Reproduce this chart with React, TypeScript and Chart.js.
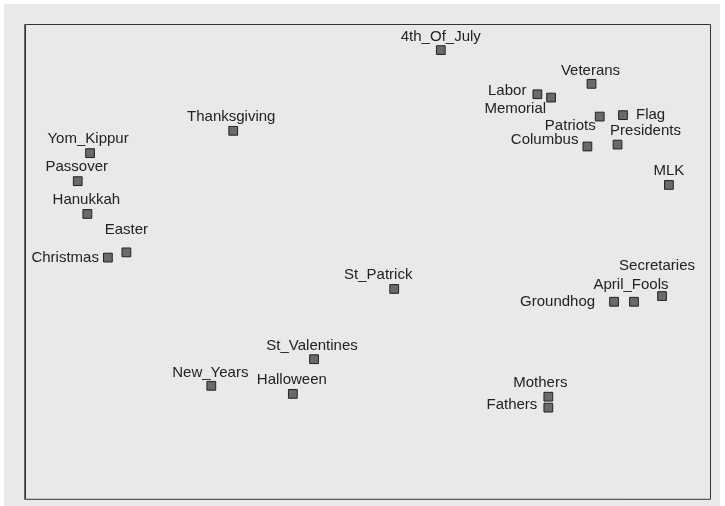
import React, { useEffect, useRef } from "react";
import { Chart, registerables } from "chart.js";

Chart.register(...registerables);

const holidays = [
  "4th_Of_July", "Veterans", "Labor", "Memorial", "Patriots", "Flag", "Presidents",
  "Columbus", "MLK", "Thanksgiving", "Yom_Kippur", "Passover", "Hanukkah", "Easter",
  "Christmas", "St_Patrick", "St_Valentines", "New_Years", "Halloween", "Secretaries",
  "April_Fools", "Groundhog", "Mothers", "Fathers",
];
const xValues = [
  60.7, 82.7, 74.8, 76.8, 83.9, 87.3, 86.5,
  82.1, 94.0, 30.4, 9.5, 7.7, 9.1, 14.8,
  12.1, 53.9, 42.2, 27.2, 39.1, 93.0,
  88.9, 86.0, 76.4, 76.4,
];
const yValues = [
  94.5, 87.4, 85.2, 84.5, 80.5, 80.8, 74.6,
  74.2, 66.1, 77.5, 72.8, 66.9, 60.0, 51.9,
  50.8, 44.2, 29.4, 23.8, 22.1, 42.7,
  41.5, 41.5, 21.5, 19.2,
];

// label placement (style): align, dx, dy relative to the point centre
const labelPlacement: Record<string, [CanvasTextAlign, number, number]> = {
  "4th_Of_July": ["center", 0, -13],
  Veterans: ["center", -1, -13],
  Labor: ["right", -11, -3],
  Memorial: ["right", -5, 11],
  Patriots: ["right", -4, 9.5],
  Flag: ["left", 13, 0],
  Presidents: ["center", 28, -14],
  Columbus: ["right", -9, -7],
  MLK: ["center", 0, -14],
  Thanksgiving: ["center", -2, -14],
  Yom_Kippur: ["center", -2, -14],
  Passover: ["center", -1, -14.5],
  Hanukkah: ["center", -1, -14],
  Easter: ["center", 0, -23],
  Christmas: ["right", -9, 0],
  St_Patrick: ["center", -16, -14],
  St_Valentines: ["center", -2, -13],
  New_Years: ["center", -1, -13],
  Halloween: ["center", -1, -14],
  Secretaries: ["center", -5, -30],
  April_Fools: ["center", -3, -17],
  Groundhog: ["right", -19, 0],
  Mothers: ["center", -8, -14],
  Fathers: ["right", -11, -3],
};

const labelPlugin = {
  id: "pointLabels",
  afterDatasetsDraw(chart: any) {
    const ctx = chart.ctx;
    const meta = chart.getDatasetMeta(0);
    ctx.save();
    ctx.font = "15px 'Liberation Sans', Arial, sans-serif";
    ctx.fillStyle = "#222222";
    ctx.textBaseline = "middle";
    meta.data.forEach((pt: any, i: number) => {
      const name = holidays[i];
      const [align, dx, dy] = labelPlacement[name] || ["center", 0, -14];
      ctx.textAlign = align;
      ctx.fillText(name, pt.x + dx, pt.y + dy);
    });
    ctx.restore();
  },
};

const framePlugin = {
  id: "frame",
  beforeDatasetsDraw(chart: any) {
    const { ctx, chartArea: a } = chart;
    ctx.save();
    ctx.strokeStyle = "#333333";
    ctx.lineWidth = 1;
    ctx.beginPath();
    ctx.moveTo(a.left + 0.5, a.top + 0.5);
    ctx.lineTo(a.right + 0.5, a.top + 0.5);
    ctx.lineTo(a.right + 0.5, a.bottom + 0.5);
    ctx.lineTo(a.left + 0.5, a.bottom + 0.5);
    ctx.closePath();
    ctx.stroke();
    ctx.strokeStyle = "#666666";
    ctx.beginPath();
    ctx.moveTo(a.left - 0.5, a.top);
    ctx.lineTo(a.left - 0.5, a.bottom + 1);
    ctx.stroke();
    ctx.restore();
  },
};

export default function App() {
  const ref = useRef<HTMLCanvasElement>(null);
  useEffect(() => {
    document.body.style.margin = "0";
    if (!ref.current) return;
    const chart = new Chart(ref.current, {
      type: "scatter",
      data: {
        datasets: [
          {
            data: xValues.map((x, i) => ({ x, y: yValues[i] })),
            pointStyle: "rect",
            pointRadius: 6.2,
            pointBackgroundColor: "#6a6a6a",
            pointBorderColor: "#222222",
            pointBorderWidth: 1,
          },
        ],
      },
      options: {
        animation: false,
        responsive: false,
        layout: { padding: { left: 21, top: 20, right: 10, bottom: 7 } },
        plugins: { legend: { display: false }, tooltip: { enabled: false } },
        scales: {
          x: { type: "linear", min: 0, max: 100, display: false },
          y: { type: "linear", min: 0, max: 100, display: false },
        },
      },
      plugins: [framePlugin, labelPlugin],
    });
    return () => chart.destroy();
  }, []);
  return (
    <div style={{ position: "relative", width: 725, height: 506, background: "#ffffff" }}>
      <div style={{ position: "absolute", left: 4, top: 4, width: 716, height: 502, background: "#e9e9eb" }}>
        <canvas ref={ref} width={716} height={502} style={{ display: "block" }} />
      </div>
    </div>
  );
}
